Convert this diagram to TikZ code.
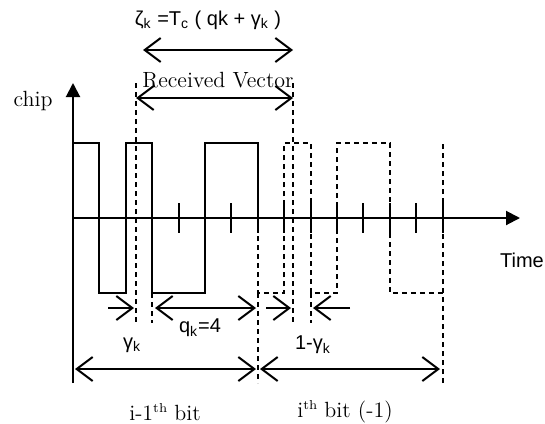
\documentclass[tikz,border=0pt]{standalone}
\usepackage{fontspec}
\newfontfamily\labelfont{Liberation Sans}
\usetikzlibrary{arrows.meta}

\tikzset{
  wave/.style={line width=1pt},
  ghost/.style={line width=1pt, dash pattern=on 2.5pt off 2pt},
  span/.style={line width=1pt, {Straight Barb[length=8pt,width=12pt]}-{Straight Barb[length=8pt,width=12pt]}},
  spanr/.style={line width=1pt, -{Straight Barb[length=8pt,width=12pt]}},
  axis/.style={line width=1pt, -{Triangle[length=7pt,width=7pt]}},
  sanslabel/.style={font=\labelfont\fontsize{10}{11}\selectfont, inner sep=0pt},
  seriflabel/.style={font=\fontsize{11}{12}\selectfont, inner sep=0pt}
}
\newcommand{\ordsup}[1]{\raisebox{0.8ex}{\fontsize{6.5}{7}\selectfont #1}}

\begin{document}
\begin{tikzpicture}[x=0.5pt, y=-0.5pt]
    \useasboundingbox (0,0) rectangle (545,423);

    % Axes
    \coordinate (origin) at (73,218);
    \coordinate (ybot) at (73,383);
    \coordinate (ytop) at (73,83);
    \coordinate (xend) at (520,218);
    \draw[axis] (ybot) -- (ytop);
    \draw[axis] (origin) -- (xend);
    \node[seriflabel] (chip) at (33,101) {chip};
    \node[sanslabel] (time) at (522,260) {Time};

    % Chip ticks
    \foreach \k in {1,...,14}
      \draw[wave] (73+26.4*\k,203) -- (73+26.4*\k,233);

    % Bit i-1 (solid)
    \draw[wave] (73,143) -- (99.4,143) -- (99.4,293) -- (125.8,293) -- (125.8,143)
      -- (152.2,143) -- (152.2,293) -- (205,293) -- (205,143) -- (257.8,143) -- (257.8,218);

    % Bit i (dashed)
    \draw[ghost] (257.8,218) -- (257.8,293) -- (284.2,293) -- (284.2,143) -- (310.6,143)
      -- (310.6,293) -- (337,293) -- (337,143) -- (389.8,143) -- (389.8,293) -- (442.6,293);
    \draw[ghost] (442.6,383) -- (442.6,143);
    \draw[ghost] (257.8,293) -- (257.8,383);
    \draw[ghost] (152.2,293) -- (152.2,323);
    \draw[ghost] (310.6,293) -- (310.6,323);

    % Received vector window
    \coordinate (winL) at (136,83);
    \coordinate (winR) at (293,83);
    \draw[ghost] (winL) -- (136,323);
    \draw[ghost] (winR) -- (293,323);
    \draw[span] (136,98) -- (293,98);
    \node[seriflabel] (recv) at (218,80) {Received Vector};

    % Delay
    \draw[span] (143,50) -- (293,50);
    \node[sanslabel] (zeta) at (208,20)
      {ζ\textsubscript{k} =T\textsubscript{c} ( qk + γ\textsubscript{k} )};

    % Offsets
    \draw[spanr] (108,308) -- (134,308);
    \draw[span] (155,308) -- (256,308);
    \draw[spanr] (266,308) -- (291,308);
    \draw[spanr] (350,308) -- (313,308);
    \node[sanslabel] (gam) at (132,345) {γ\textsubscript{k}};
    \node[sanslabel] (qk) at (200,328) {q\textsubscript{k}=4};
    \node[sanslabel] (onegam) at (313,345) {1-γ\textsubscript{k}};

    % Bit lengths
    \draw[span] (75,369) -- (256,369);
    \draw[span] (260,369) -- (440,369);
    \node[seriflabel] (prevbit) at (165,412) {i-1\ordsup{th} bit};
    \node[seriflabel] (curbit) at (345,412) {i\ordsup{th} bit (-1)};
\end{tikzpicture}
\end{document}
